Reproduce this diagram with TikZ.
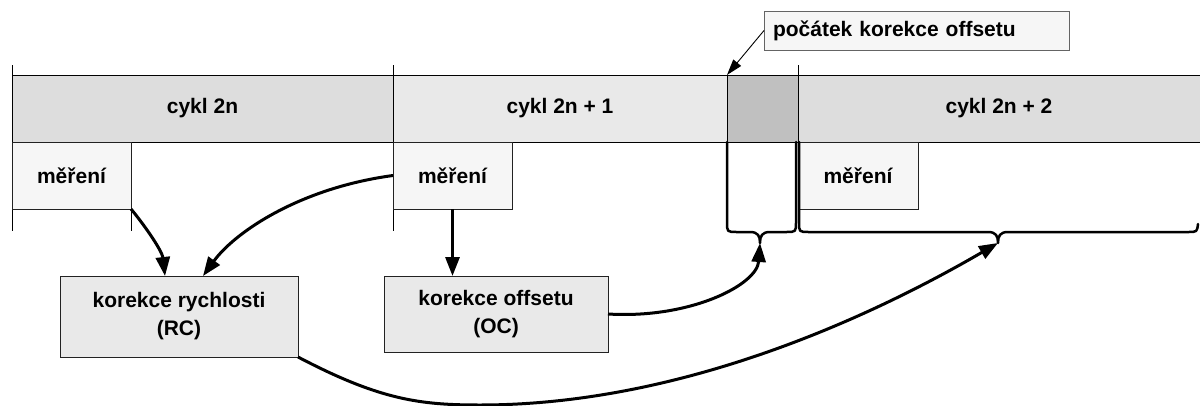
\documentclass[tikz,border=0pt]{standalone}
\usepackage{fontspec}
\setmainfont{Liberation Sans}
\usetikzlibrary{arrows.meta,calc}
\definecolor{cycA}{HTML}{DDDDDD}
\definecolor{cycB}{HTML}{E9E9E9}
\definecolor{patch}{HTML}{C0C0C0}
\definecolor{light}{HTML}{F6F6F6}
\definecolor{boxfill}{HTML}{E9E9E9}
\definecolor{edge}{HTML}{222222}
\tikzset{
  cyc/.style={draw=none, rectangle, outer sep=0pt, inner sep=0pt, anchor=north west, minimum height=67pt, font=\fontsize{21}{25}\selectfont\bfseries},
  meas/.style={draw=edge, line width=0.9pt, fill=light, rectangle, outer sep=0pt, inner sep=0pt, anchor=north west, minimum height=67pt, font=\fontsize{21}{25}\selectfont\bfseries},
  corr/.style={draw=edge, line width=0.9pt, fill=boxfill, rectangle, outer sep=0pt, inner sep=0pt, anchor=north west, align=center, font=\fontsize{21}{28}\selectfont\bfseries},
  lbl/.style={draw=edge!70, line width=0.9pt, fill=light, rectangle, outer sep=0pt, inner xsep=9pt, inner ysep=0pt, anchor=north west, text width=287pt, align=left, minimum height=39pt, font=\fontsize{21}{25}\selectfont\bfseries},
  thinline/.style={line width=0.9pt, black},
  brace/.style={line width=2.5pt, line join=round, line cap=round},
  arr/.style={line width=3pt, -{Triangle[length=19pt,width=14pt]}},
  tharr/.style={line width=0.9pt, -{Triangle[length=16pt,width=10pt]}}
}
\begin{document}
\begin{tikzpicture}[x=1pt,y=-1pt]
\useasboundingbox (0,0) rectangle (1200,405);
% cycle bar
\node[cyc, fill=cycA, minimum width=381pt] (c0) at (12,75) {cykl 2n};
\node[cyc, fill=cycB, minimum width=334pt] (c1) at (393,75) {cykl 2n + 1};
\node[cyc, fill=patch, minimum width=71pt] (pt) at (727,75) {};
\node[cyc, fill=cycA, minimum width=402pt] (c2) at (798,75) {cykl 2n + 2};
\draw[thinline] (12,75) -- (1200,75);
\draw[thinline] (12,142) -- (1200,142);
\draw[thinline] (12,65) -- (12,231);
\draw[thinline] (393,65) -- (393,231);
\draw[thinline] (798,65) -- (798,142);
\draw[thinline] (727,75) -- (727,142);
% measurement boxes
\node[meas, minimum width=119pt] (m1) at (12,142) {měření};
\node[meas, minimum width=119pt] (m2) at (393,142) {měření};
\node[meas, minimum width=120pt] (m3) at (798,142) {měření};
\draw[thinline] (m1.south east) -- (131,231);
% label
\node[lbl] (lb) at (764,11) {počátek korekce offsetu};
\coordinate (start) at (727,75);
\draw[tharr] (lb.west) -- (start);
% correction boxes
\node[corr, minimum width=238pt, minimum height=81pt] (rc) at (60,276) {korekce rychlosti\\(RC)};
\node[corr, minimum width=224pt, minimum height=76pt] (oc) at (384,276) {korekce offsetu\\(OC)};
% braces
\coordinate (tip1) at (760,243);
\coordinate (tip2) at (998,243);
\draw[brace] (727,142) -- (727,222) .. controls (727,232) .. (737,232) -- (750,232)
  .. controls (758,232) and (760,236) .. (tip1)
  .. controls (760,236) and (762,232) .. (770,232) -- (786,232)
  .. controls (796,232) .. (796,222) -- (796,142);
\draw[brace] (799,142) -- (799,222) .. controls (799,232) .. (809,232) -- (988,232)
  .. controls (996,232) and (998,236) .. (tip2)
  .. controls (998,236) and (1000,232) .. (1008,232) -- (1188,232)
  .. controls (1197,232) .. (1198,224);
% arrows
\draw[arr] (m1.south east) .. controls (142,222) and (162,250) .. ($(rc.north west)+(105,0)$);
\draw[arr] (m2.west) .. controls (300,188) and (235,232) .. ($(rc.north west)+(143,0)$);
\draw[arr] (m2.south) -- (m2.south |- oc.north);
\draw[arr] (oc.east) .. controls (690,319) and (757,285) .. (tip1);
\draw[arr] (rc.south east) .. controls (380,400) and (420,405) .. (480,405)
  .. controls (700,405) and (900,300) .. (tip2);
\end{tikzpicture}
\end{document}
